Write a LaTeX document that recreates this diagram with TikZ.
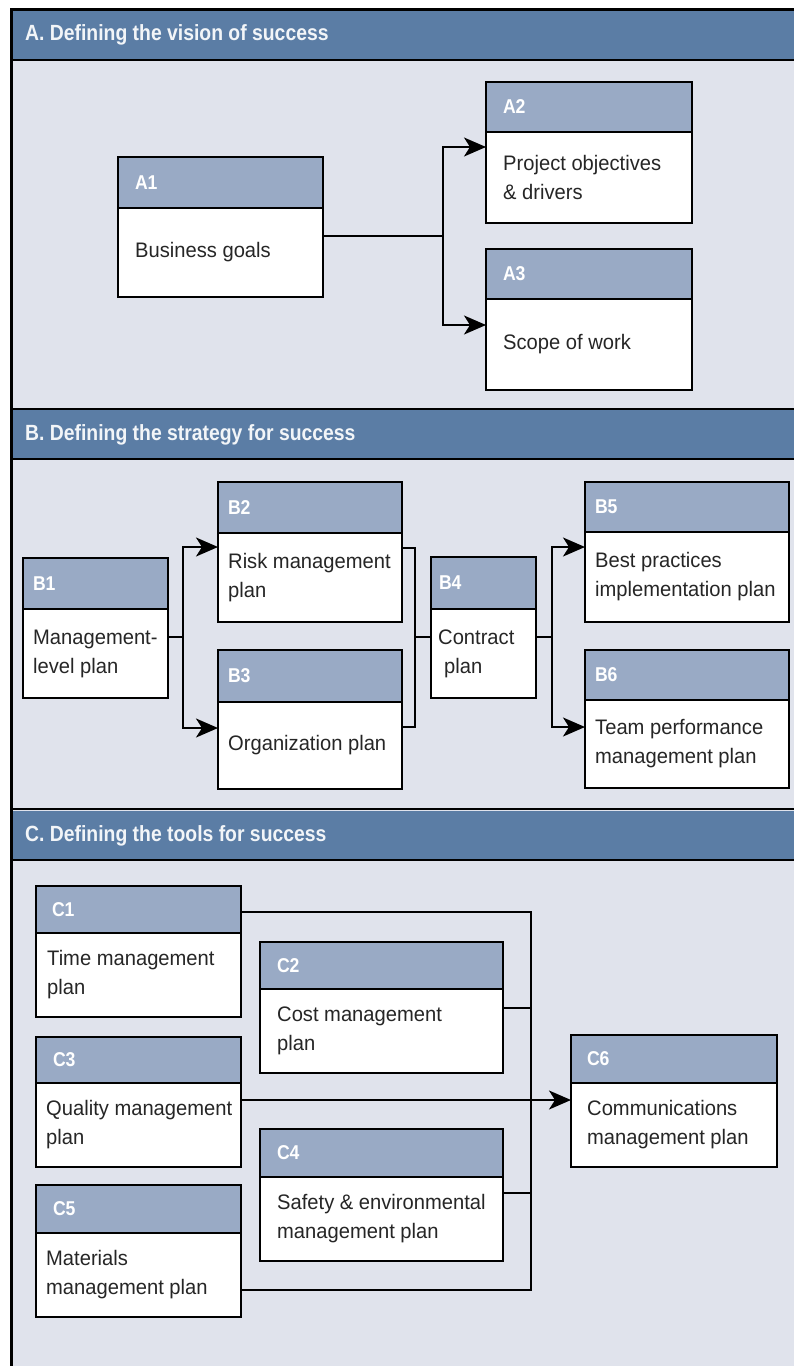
\documentclass[tikz,border=0pt]{standalone}
\usepackage{fontspec}
\setmainfont{Liberation Sans}[FakeStretch=0.96]
\newfontfamily\narrowfont{Liberation Sans}[FakeStretch=0.88]
\usetikzlibrary{arrows.meta,positioning,calc}

\definecolor{secblue}{HTML}{5B7DA5}
\definecolor{tagblue}{HTML}{99AAC5}
\definecolor{panelbg}{HTML}{E0E3EC}

\tikzset{
  headbar/.style={draw, line width=2.8pt, fill=tagblue, text=white, font=\narrowfont\bfseries\fontsize{20}{24}\selectfont,
    anchor=north west, outer sep=0pt, inner ysep=0pt, align=left},
  bodybox/.style={draw, line width=2.8pt, fill=white, anchor=north west, outer sep=0pt, inner sep=0pt},
  bodytext/.style={anchor=west, inner sep=0pt, align=left, text=black!85, font=\fontsize{21}{29}\selectfont},
  sectitle/.style={anchor=west, inner sep=0pt, text=white!92!secblue, font=\narrowfont\bfseries\fontsize{22}{26}\selectfont},
  link/.style={line width=1.9pt},
  flow/.style={link, -{Stealth[length=22pt,width=19pt,inset=6pt]}}
}

% name, top left, width, head height, body height, label inset, text inset, label, text
\newcommand{\planbox}[9]{%
  \pgfmathsetmacro\pbtw{#3-2*#6}%
  \node[headbar, minimum width=#3pt, minimum height=#4pt, text width=\pbtw pt, inner xsep=#6pt] (#1h) at (#2) {#8};
  \node[bodybox, minimum width=#3pt, minimum height=#5pt] (#1) at (#1h.south west) {};
  \node[bodytext] (#1t) at ([xshift=#7pt]#1.west) {#9};}

\begin{document}
\begin{tikzpicture}[x=1pt,y=-1pt]
  \useasboundingbox (0,0) rectangle (794,1366);

  % panels
  \fill[panelbg] (10,8) rectangle (794,1366);
  \fill[secblue] (10,10) rectangle (794,60);
  \fill[secblue] (10,410) rectangle (794,459);
  \fill[secblue] (10,811) rectangle (794,860);
  \draw[line width=3pt] (794,9.5) -- (11,9.5) -- (11,1366);
  \foreach \y in {60,409,459,809,860}
    \draw[line width=2.5pt] (11,\y) -- (794,\y);

  \node[sectitle] (titleA) at (25,35) {A. Defining the vision of success};
  \node[sectitle] (titleB) at (25,435) {B. Defining the strategy for success};
  \node[sectitle] (titleC) at (25,836) {C. Defining the tools for success};

  % A
  \planbox{a1}{118,157}{205}{51}{89}{17}{17}{A1}{Business goals}
  \planbox{a2}{486,82}{206}{50}{91}{17}{17}{A2}{Project objectives\\\& drivers}
  \planbox{a3}{486,249}{206}{50}{91}{17}{17}{A3}{Scope of work}

  % B
  \planbox{b1}{23,558}{145}{51}{89}{10}{10}{B1}{Management-\\level plan}
  \planbox{b2}{218,482}{184}{51}{89}{10}{10}{B2}{Risk management\\plan}
  \planbox{b3}{218,650}{184}{52}{87}{10}{10}{B3}{Organization plan}
  \planbox{b4}{431,557}{105}{52}{89}{8}{7}{B4}{Contract\\\hspace*{6pt}plan}
  \planbox{b5}{585,482}{204}{50}{90}{10}{10}{B5}{Best practices\\implementation plan}
  \planbox{b6}{585,650}{204}{50}{88}{10}{10}{B6}{Team performance\\management plan}

  % C
  \planbox{c1}{36,886}{205}{47}{84}{16}{11}{C1}{Time management\\plan}
  \planbox{c2}{260,942}{243}{47}{84}{17}{17}{C2}{Cost management\\plan}
  \planbox{c3}{36,1037}{205}{46}{84}{17}{10}{C3}{Quality management\\plan}
  \planbox{c4}{260,1129}{243}{48}{84}{17}{17}{C4}{Safety \& environmental\\management plan}
  \planbox{c5}{36,1185}{205}{48}{84}{17}{10}{C5}{Materials\\management plan}
  \planbox{c6}{571,1035}{206}{48}{84}{16}{16}{C6}{Communications\\management plan}

  % connectors
  \coordinate (ja) at (443,236);
  \draw[link] (a1.east |- ja) -- (ja);
  \draw[flow] (ja) |- (a2.west |- 0,147);
  \draw[flow] (ja) |- (a3.west |- 0,325);

  \coordinate (jb1) at (183,637);
  \draw[link] (b1.east |- jb1) -- (jb1);
  \draw[flow] (jb1) |- (b2.west |- 0,547);
  \draw[flow] (jb1) |- (b3.west |- 0,728);

  \coordinate (jb2) at (415,637);
  \draw[link] (b2.east |- 0,548) -| (jb2) |- (b3.east |- 0,727);
  \draw[link] (jb2) -- (b4.west |- jb2);

  \coordinate (jb3) at (552,637);
  \draw[link] (b4.east |- jb3) -- (jb3);
  \draw[flow] (jb3) |- (b5.west |- 0,547);
  \draw[flow] (jb3) |- (b6.west |- 0,727);

  \coordinate (ct) at (531,912);
  \coordinate (cb) at (531,1290);
  \draw[link] (c1h.east |- ct) -- (ct) -- (cb) -- (c5.east |- cb);
  \draw[link] (c2.east |- 0,1008) -- (ct |- 0,1008);
  \draw[link] (c4.east |- 0,1193) -- (ct |- 0,1193);
  \draw[flow] (c3.east |- 0,1100) -- (c6.west |- 0,1100);
\end{tikzpicture}
\end{document}
